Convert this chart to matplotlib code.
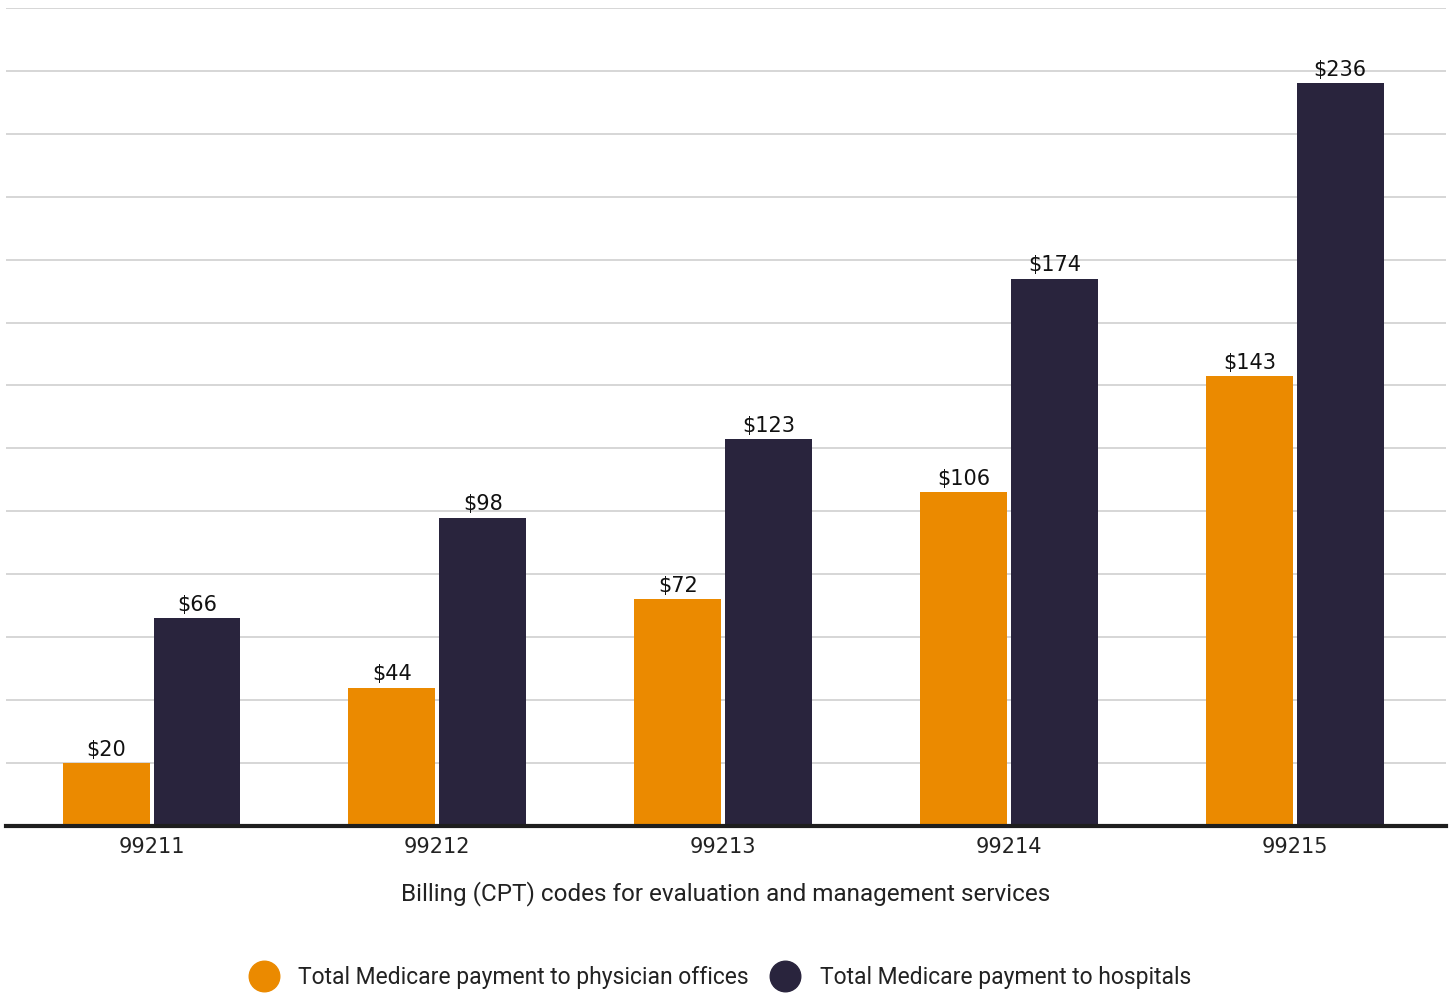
import matplotlib.pyplot as plt
import numpy as np
from matplotlib.lines import Line2D

# Data
codes = ['99211', '99212', '99213', '99214', '99215']
physician_offices = [20, 44, 72, 106, 143]
hospitals = [66, 98, 123, 174, 236]
series_names = ['Total Medicare payment to physician offices',
                'Total Medicare payment to hospitals']

ORANGE = '#EB8A00'
DARK = '#29243D'

plt.rcParams['font.family'] = ['Roboto', 'DejaVu Sans']

fig = plt.figure(figsize=(14.52, 9.93), dpi=100)
ax = fig.add_axes([0.004, 0.1682, 0.992, 0.8238])

x = np.arange(len(codes))
w = 0.304
off = 0.159
b1 = ax.bar(x - off, physician_offices, w, color=ORANGE, zorder=3)
b2 = ax.bar(x + off, hospitals, w, color=DARK, zorder=3)

# value labels above bars
for bars, vals in ((b1, physician_offices), (b2, hospitals)):
    for rect, v in zip(bars, vals):
        ax.text(rect.get_x() + rect.get_width() / 2, v + 1.1, f'${v}',
                ha='center', va='bottom', fontsize=15, color='#111111',
                family='DejaVu Sans', zorder=4)

ax.set_xlim(-0.51, 4.53)
ax.set_ylim(0, 260)
ax.set_yticks(np.arange(20, 261, 20))
ax.yaxis.grid(True, color='#d3d3d3', linewidth=1.3, zorder=0)
ax.tick_params(axis='y', left=False, labelleft=False)
ax.set_xticks(x)
ax.set_xticklabels(codes, fontsize=15, color='#222222', family='DejaVu Sans')
ax.tick_params(axis='x', length=0, pad=8)
for s in ('top', 'right', 'left'):
    ax.spines[s].set_visible(False)
ax.spines['bottom'].set_linewidth(3)
ax.spines['bottom'].set_color('#1e1e1e')
ax.spines['bottom'].set_zorder(5)
ax.set_xlabel('Billing (CPT) codes for evaluation and management services',
              fontsize=17.5, color='#222222', labelpad=17)

handles = [Line2D([], [], marker='o', linestyle='none', markersize=22, color=ORANGE),
           Line2D([], [], marker='o', linestyle='none', markersize=22, color=DARK)]
fig.legend(handles, series_names, loc='center', bbox_to_anchor=(0.493, 0.016),
           ncol=2, frameon=False, fontsize=16.5, handletextpad=0.5, columnspacing=0.6,
           labelcolor='#222222')

fig.savefig('out.png', dpi=100, facecolor='white')
